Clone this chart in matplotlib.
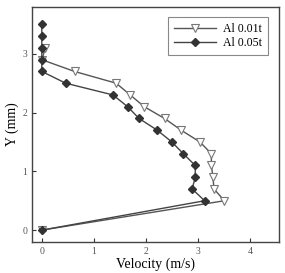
import matplotlib
matplotlib.use("Agg")
import matplotlib.pyplot as plt

# Velocity profiles (m/s) at heights Y (mm)
y_01t = [0, 0.5, 0.7, 0.9, 1.1, 1.3, 1.5, 1.7, 1.9, 2.1, 2.3, 2.5, 2.7, 2.9, 3.1]
v_01t = [0, 3.51, 3.31, 3.29, 3.26, 3.26, 3.04, 2.68, 2.36, 1.97, 1.70, 1.43, 0.63, 0.0, 0.07]

y_05t = [0, 0.5, 0.7, 0.9, 1.1, 1.3, 1.5, 1.7, 1.9, 2.1, 2.3, 2.5, 2.7, 2.9, 3.1, 3.3, 3.5]
v_05t = [0, 3.13, 2.89, 2.95, 2.95, 2.72, 2.50, 2.22, 1.87, 1.65, 1.37, 0.46, 0.0, 0.0, 0.0, 0.0, 0.0]

plt.rcParams["font.family"] = "Liberation Serif"

fig = plt.figure(figsize=(2.85, 2.73), dpi=100)
ax = fig.add_axes([0.112, 0.114, 0.867, 0.861])

ax.plot(v_01t, y_01t, "-", color="#555555", lw=1.0, marker="v", ms=5.5,
        mfc="white", mec="#777777", mew=0.8, label="Al 0.01t", zorder=2)
ax.plot(v_05t, y_05t, "-", color="#444444", lw=1.0, marker="D", ms=4.0,
        mfc="#333333", mec="#333333", label="Al 0.05t", zorder=3)

ax.set_xlim(-0.19, 4.56)
ax.set_ylim(-0.2, 3.8)
ax.set_xticks([0, 1, 2, 3, 4])
ax.set_yticks([0, 1, 2, 3])
ax.tick_params(direction="in", length=3, labelsize=7, colors="#333333",
               labelcolor="#555555", top=False, right=False)
for s in ax.spines.values():
    s.set_color("#444444")
    s.set_linewidth(1.0)

ax.set_xlabel("Velocity (m/s)", fontsize=10, labelpad=1)
ax.set_ylabel("Y (mm)", fontsize=10, labelpad=2)

leg = ax.legend(loc="upper right", fontsize=8.5, fancybox=False, framealpha=1,
                edgecolor="#888888", handlelength=3.6, borderpad=0.5,
                labelspacing=0.15, borderaxespad=0.9, handletextpad=0.6)
leg.get_frame().set_linewidth(0.8)

fig.savefig("out.png", dpi=100)
